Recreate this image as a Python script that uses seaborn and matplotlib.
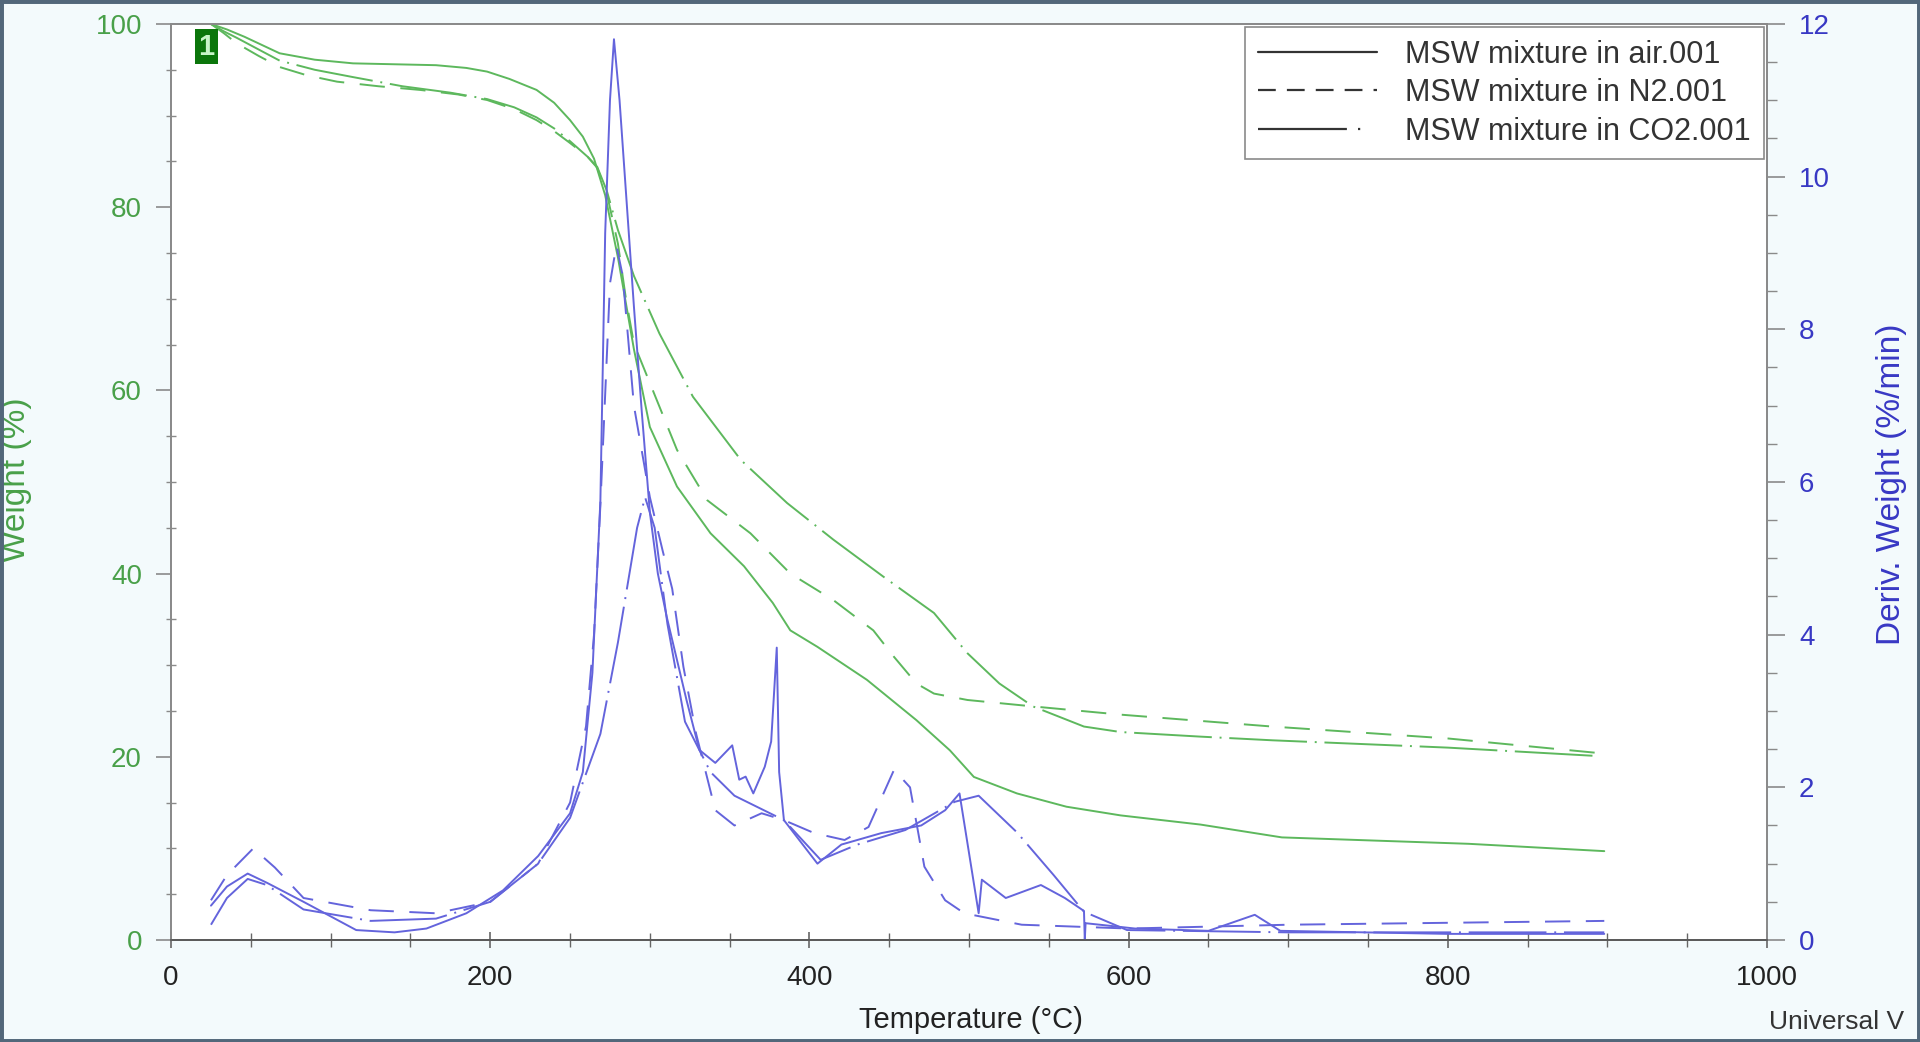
import pandas as pd
import seaborn as sns
import matplotlib.pyplot as plt
from matplotlib.lines import Line2D
from matplotlib.patches import Rectangle
from matplotlib.ticker import MultipleLocator

# weight curves (TGA)
t_w_air = [25, 35, 46, 68, 90, 114, 140, 166, 185, 198, 212, 229, 240, 250, 258, 265, 272, 280, 290, 300,
           317, 338, 359, 377, 388, 405, 436, 467, 488, 503, 530, 561, 595, 645, 696, 813, 898]
w_air = [100, 99.4, 98.6, 96.8, 96.1, 95.7, 95.6, 95.5, 95.2, 94.8, 94.0, 92.8, 91.4, 89.5, 87.7, 85.3, 81.3, 74.5, 64.5, 56.0,
         49.5, 44.4, 40.8, 36.8, 33.8, 32.0, 28.4, 24.0, 20.7, 17.8, 16.0, 14.55, 13.6, 12.6, 11.2, 10.5, 9.7]

t_w_n2 = [25, 33, 41, 55, 68, 85, 104, 130, 156, 180, 198, 215, 229, 240, 250, 261, 267, 273, 280, 285,
          290, 300, 317, 336, 363, 388, 415, 440, 453, 467, 478, 499, 540, 595, 690, 800, 895]
w_n2 = [100, 99.0, 97.9, 96.5, 95.3, 94.4, 93.7, 93.2, 92.8, 92.3, 91.7, 90.7, 89.5, 88.3, 87.0, 85.5, 84.3, 81.5, 76.0, 70.0,
        65.1, 60.8, 53.5, 48.0, 44.4, 40.0, 37.1, 33.8, 30.9, 28.0, 26.9, 26.2, 25.5, 24.6, 23.3, 22.0, 20.4]

t_w_co2 = [25, 33, 41, 55, 68, 90, 114, 145, 175, 198, 215, 229, 240, 250, 261, 267, 273, 280, 290, 306,
           327, 357, 386, 415, 446, 478, 499, 519, 540, 572, 595, 645, 690, 800, 892]
w_co2 = [100, 99.2, 98.5, 97.2, 96.0, 95.0, 94.2, 93.2, 92.5, 91.8, 90.9, 89.8, 88.6, 87.2, 85.5, 84.4, 81.8, 77.5, 72.5, 66.2,
         59.3, 52.4, 47.7, 43.7, 39.7, 35.7, 31.3, 28.0, 25.5, 23.3, 22.7, 22.2, 21.8, 21.0, 20.1]

# derivative curves (DTG, %/min)
t_d_air = [25, 35, 48, 60, 83, 116, 140, 160, 185, 208, 230, 250, 258, 264, 269, 272, 275, 277.5, 281, 285,
           290, 295, 300, 305, 310.6, 323, 331, 341, 347, 351.6, 356, 360, 364.8, 372, 376, 379.5, 381, 384, 405, 420,
           445, 470, 485, 494, 506, 508, 523, 545, 560, 572, 572.5, 573, 604, 650, 679, 695, 800, 898]
d_air = [0.45, 0.7, 0.87, 0.75, 0.5, 0.13, 0.1, 0.15, 0.35, 0.65, 1.1, 1.66, 2.2, 3.5, 5.76, 9.26, 11.0, 11.8, 11.0, 9.8,
         8.3, 6.9, 5.6, 4.8, 4.23, 3.14, 2.49, 2.32, 2.45, 2.55, 2.1, 2.14, 1.92, 2.27, 2.6, 3.83, 2.2, 1.57, 1.0, 1.25,
         1.4, 1.5, 1.7, 1.92, 0.35, 0.79, 0.55, 0.72, 0.55, 0.38, 0.0, 0.22, 0.15, 0.12, 0.33, 0.12, 0.08, 0.08]

t_d_n2 = [25, 35, 51.5, 65, 83, 125, 166, 200, 230, 250, 260, 265, 269, 275, 279, 283, 290, 300, 308, 314,
          321, 329, 341, 353, 370, 384, 403, 422, 437, 453, 463, 472, 485, 497, 533, 600, 700, 898]
d_n2 = [0.52, 0.85, 1.2, 0.95, 0.55, 0.39, 0.35, 0.5, 1.0, 1.8, 2.8, 4.0, 5.7, 8.6, 9.1, 8.7, 7.0, 5.8, 5.1, 4.6,
        3.58, 2.7, 1.7, 1.5, 1.66, 1.57, 1.4, 1.31, 1.48, 2.23, 2.0, 0.96, 0.52, 0.35, 0.2, 0.15, 0.2, 0.25]

t_d_co2 = [25, 35, 48, 60, 83, 125, 166, 200, 230, 250, 269, 280, 292, 297, 303, 311, 322, 338, 353, 384,
           407, 430, 460, 491, 506, 530, 553, 572, 599, 700, 898]
d_co2 = [0.2, 0.55, 0.8, 0.72, 0.4, 0.25, 0.28, 0.5, 1.0, 1.6, 2.7, 3.9, 5.4, 5.8, 5.4, 4.14, 2.86, 2.2, 1.89, 1.57,
         1.05, 1.25, 1.44, 1.81, 1.89, 1.41, 0.85, 0.37, 0.13, 0.1, 0.1]

gases = ['MSW mixture in air.001', 'MSW mixture in N2.001', 'MSW mixture in CO2.001']

weight = pd.concat([
    pd.DataFrame({'T': t_w_air, 'val': w_air, 'gas': gases[0]}),
    pd.DataFrame({'T': t_w_n2, 'val': w_n2, 'gas': gases[1]}),
    pd.DataFrame({'T': t_w_co2, 'val': w_co2, 'gas': gases[2]}),
])
deriv = pd.concat([
    pd.DataFrame({'T': t_d_air, 'val': d_air, 'gas': gases[0]}),
    pd.DataFrame({'T': t_d_n2, 'val': d_n2, 'gas': gases[1]}),
    pd.DataFrame({'T': t_d_co2, 'val': d_co2, 'gas': gases[2]}),
])

dash_map = {gases[0]: '', gases[1]: (13, 8), gases[2]: (40, 4, 1, 4)}
# legend samples: one long dash and a dot for CO2, as in the instrument legend
leg_dash = {gases[0]: None, gases[1]: (8, 5), gases[2]: (40, 5, 1, 30)}

green = '#5db85d'
blue = '#6464dc'
green_txt = '#49a049'
blue_txt = '#3838c4'

sns.set_theme(style='white')
plt.rcParams['font.family'] = ['Liberation Sans', 'DejaVu Sans']

fig = plt.figure(figsize=(19.2, 10.42), dpi=100, facecolor='#f3fafc')
ax = fig.add_axes([0.0891, 0.0979, 0.83125, 0.8791])
ax.set_facecolor('white')
ax2 = ax.twinx()

sns.lineplot(data=weight, x='T', y='val', style='gas', dashes=dash_map, color=green,
             estimator=None, sort=False, legend=False, ax=ax, linewidth=1.4)
sns.lineplot(data=deriv, x='T', y='val', style='gas', dashes=dash_map, color=blue,
             estimator=None, sort=False, legend=False, ax=ax2, linewidth=1.4)

ax.set_xlim(0, 1000)
ax.set_ylim(0, 100)
ax2.set_ylim(0, 12)

ax.xaxis.set_major_locator(MultipleLocator(200))
ax.xaxis.set_minor_locator(MultipleLocator(50))
ax.yaxis.set_major_locator(MultipleLocator(20))
ax.yaxis.set_minor_locator(MultipleLocator(5))
ax2.yaxis.set_major_locator(MultipleLocator(2))
ax2.yaxis.set_minor_locator(MultipleLocator(0.5))

for sp in ['left', 'right', 'top', 'bottom']:
    ax.spines[sp].set_color('#8a8a8a')
    ax2.spines[sp].set_color('#8a8a8a')
    ax.spines[sp].set_linewidth(1.3)
    ax2.spines[sp].set_linewidth(1.3)
ax.spines['bottom'].set_color('#5a5a5a')
ax2.spines['bottom'].set_color('#5a5a5a')

ax.tick_params(axis='x', which='major', direction='inout', length=12, width=1.2, color='#666666',
               labelsize=20, labelcolor='#222222', pad=12, bottom=True)
ax.tick_params(axis='x', which='minor', direction='inout', length=10, width=1.0, color='#666666', bottom=True)
ax.tick_params(axis='y', which='major', direction='out', length=11, width=1.2, color='#8a8a8a',
               labelsize=20, labelcolor=green_txt, pad=10, left=True)
ax.tick_params(axis='y', which='minor', direction='inout', length=7, width=1.0, color='#8a8a8a', left=True)
ax2.tick_params(axis='y', which='major', direction='out', length=13, width=1.2, color='#8a8a8a',
                labelsize=20, labelcolor=blue_txt, pad=10, right=True)
ax2.tick_params(axis='y', which='minor', direction='out', length=7, width=1.0, color='#8a8a8a', right=True)

ax.set_xlabel('Temperature (°C)', fontsize=21, color='#222222')
ax.xaxis.set_label_coords(0.501, -0.072)
ax.set_ylabel('Weight (%)', fontsize=24, color=green_txt)
ax.yaxis.label.set_verticalalignment('center')
ax.yaxis.set_label_coords(-0.097, 0.502)
ax2.set_ylabel('Deriv. Weight (%/min)', fontsize=24, color=blue_txt)
ax2.yaxis.label.set_verticalalignment('center')
ax2.yaxis.set_label_coords(1.078, 0.498)

# curve set marker in the corner
ax.text(22, 97.5, '1', fontsize=21, color='#c8f5c8', ha='center', va='center', fontweight='bold',
        bbox=dict(boxstyle='square,pad=0.12', facecolor='#0b760b', edgecolor='none'))

handles = []
for g in gases:
    h = Line2D([], [], color='#333333', lw=1.6)
    if leg_dash[g]:
        h.set_dashes(leg_dash[g])
    handles.append(h)
leg = ax2.legend(handles, gases, loc='upper right', bbox_to_anchor=(0.998, 0.997), borderaxespad=0,
                 fontsize=22, handlelength=3.9, handletextpad=0.92, labelspacing=0.28, borderpad=0.42,
                 fancybox=False, framealpha=1, edgecolor='#8a8a8a', labelcolor='#333333')
leg.get_frame().set_linewidth(1.2)

fig.text(0.9215, 0.019, 'Universal V', fontsize=19, color='#333333', ha='left', va='center')

fig.patches.append(Rectangle((0, 0), 1, 1, transform=fig.transFigure, fill=False,
                             edgecolor='#52677a', linewidth=5, zorder=10))

fig.savefig('out.png', dpi=100, facecolor=fig.get_facecolor())
